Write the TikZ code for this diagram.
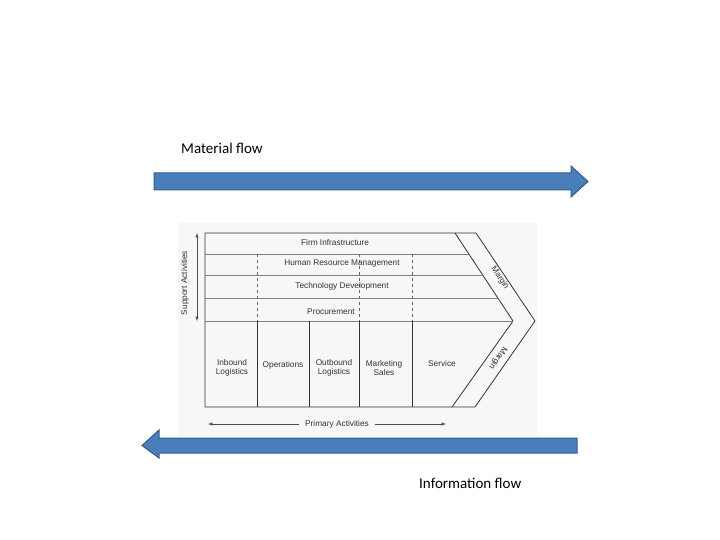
\documentclass[tikz,border=0pt]{standalone}
\usepackage{fontspec}
\setmainfont{Carlito}
\newfontfamily\dfont{Liberation Sans}
\begin{document}
\begin{tikzpicture}[x=1pt,y=-1pt,
  ln/.style={draw=black!80,line width=0.8pt},
  dl/.style={draw=black!60,dashed,line width=0.5pt},
  tx/.style={font=\dfont\fontsize{8.3}{9.5}\selectfont,text=black!80,align=center,inner sep=0pt},
  big/.style={font=\fontsize{15}{17}\selectfont}]
\useasboundingbox (0,0) rectangle (720,540);
\fill[black!3] (178,222) rectangle (537,437);
% chevron
\draw[ln] (205,233) -- (476,233) -- (535,321) -- (475,407) -- (205,407) -- cycle;
\draw[ln] (455,233) -- (513,321) -- (452,407);
\foreach \y in {254,275,298,321} \draw[ln,draw=black!50] (205,\y) -- ({455+58*(\y-233)/88},\y);
\foreach \x in {257,309,359,412} \draw[ln] (\x,321) -- (\x,407);
\foreach \x in {257,359,412} \draw[dl] (\x,254) -- (\x,321);
\node[tx] (fi) at (335,243) {Firm Infrastructure};
\node[tx] (hr) at (342,264) {Human Resource Management};
\node[tx] (td) at (342,286) {Technology Development};
\node[tx] (pr) at (331,312) {Procurement};
\node[tx] (il) at (232,368) {Inbound\\Logistics};
\node[tx] (op) at (283,365) {Operations};
\node[tx] (ol) at (334,368) {Outbound\\Logistics};
\node[tx] (ms) at (384,368) {Marketing\\Sales};
\node[tx] (sv) at (442,364) {Service};
\node[tx,rotate=-56] (m1) at (500,278) {Margin};
\node[tx,rotate=-124] (m2) at (498,358) {Margin};
\node[tx,rotate=90] (sa) at (185,283) {Support Activities};
\coordinate (s1) at (197,233); \coordinate (s2) at (197,321);
\draw[black!70,<->,>=latex,line width=0.5pt] (s1) -- (s2);
\node[tx] (pa) at (337,424) {Primary Activities};
\coordinate (p1) at (208,424); \coordinate (p2) at (446,424);
\draw[black!70,->,>=latex,line width=0.5pt] (pa.west) ++(-6,0) -- (p1);
\draw[black!70,->,>=latex,line width=0.5pt] (pa.east) ++(6,0) -- (p2);
% flows
\draw[fill={rgb,255:red,74;green,126;blue,187},draw={rgb,255:red,55;green,90;blue,140},line width=1pt]
  (154,173) -- (571,173) -- (571,166) -- (588,181.5) -- (571,197) -- (571,190) -- (154,190) -- cycle;
\draw[fill={rgb,255:red,74;green,126;blue,187},draw={rgb,255:red,55;green,90;blue,140},line width=1pt]
  (577,438) -- (159,438) -- (159,430) -- (142,445.5) -- (159,458) -- (159,453) -- (577,453) -- cycle;
\node[big,anchor=west,inner sep=0pt] (mf) at (181,148) {Material flow};
\node[big,anchor=west,inner sep=0pt] (if) at (419,483) {Information flow};
\end{tikzpicture}
\end{document}
